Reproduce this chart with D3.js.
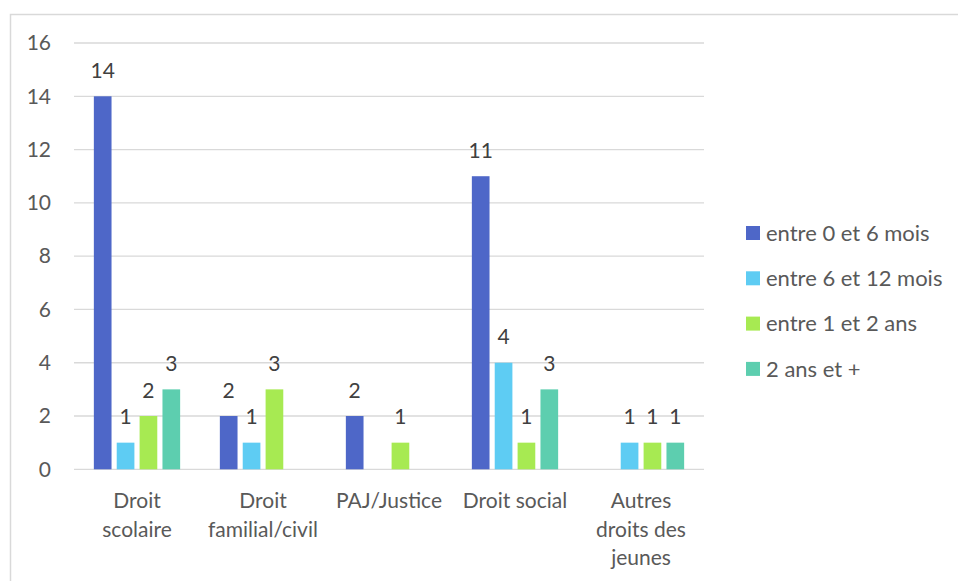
<!DOCTYPE html>
<html>
<head>
<meta charset="utf-8">
<script src="https://cdn.jsdelivr.net/npm/d3@7"></script>
<style>
  html, body { margin: 0; padding: 0; background: #fff; }
  svg { display: block; font-family: Lato, "Open Sans", sans-serif; }
</style>
</head>
<body>
<svg id="chart" width="958" height="581"></svg>
<script>
// Durées des dossiers par type de droit
const categories = ["Droit scolaire", "Droit familial/civil", "PAJ/Justice", "Droit social", "Autres droits des jeunes"];
const categoryLines = [["Droit", "scolaire"], ["Droit", "familial/civil"], ["PAJ/Justice"], ["Droit social"], ["Autres", "droits des", "jeunes"]];
const seriesNames = ["entre 0 et 6 mois", "entre 6 et 12 mois", "entre 1 et 2 ans", "2 ans et +"];
const seriesColors = ["#4E67C8", "#5ECCF3", "#A7EA52", "#5DCEAF"];
// Valeurs par série, dans l'ordre des catégories (null = aucune donnée)
const s0to6 = [14, 2, 2, 11, null];
const s6to12 = [1, 1, null, 4, 1];
const s1to2 = [2, 3, 1, 1, 1];
const s2plus = [3, null, null, 3, 1];
const yTicks = [0, 2, 4, 6, 8, 10, 12, 14, 16];

const seriesValues = [s0to6, s6to12, s1to2, s2plus];

const svg = d3.select("#chart");
const W = 958, H = 581;
const fontSize = 21;
const legendFontSize = 22;

// Cadre du graphique
svg.append("rect")
  .attr("x", 10.5).attr("y", 14.5)
  .attr("width", W).attr("height", H)
  .attr("fill", "none").attr("stroke", "#d9d9d9").attr("stroke-width", 1.5);

const plot = { left: 74, right: 704, top: 43, bottom: 469.3 };

const y = d3.scaleLinear().domain([0, 16]).range([plot.bottom, plot.top]);
const x0 = d3.scaleBand().domain(categories).range([plot.left, plot.right]).padding(0);
const groupW = 86.3;
const x1 = d3.scaleBand().domain(seriesNames)
  .range([(x0.bandwidth() - groupW) / 2, (x0.bandwidth() + groupW) / 2])
  .paddingInner(0.227).paddingOuter(0);

// Quadrillage horizontal
svg.append("g")
  .selectAll("line")
  .data(yTicks)
  .join("line")
  .attr("x1", plot.left).attr("x2", plot.right)
  .attr("y1", d => y(d)).attr("y2", d => y(d))
  .attr("stroke", "#d9d9d9").attr("stroke-width", 1.3);

// Axe vertical (libellés seulement)
const yAxis = svg.append("g")
  .attr("transform", `translate(${51},0)`)
  .call(d3.axisLeft(y).tickValues(yTicks).tickSize(0).tickPadding(0));
yAxis.select(".domain").remove();
yAxis.selectAll("text")
  .attr("font-family", "Lato, sans-serif")
  .attr("font-size", fontSize)
  .attr("fill", "#595959");

// Barres
const rows = [];
categories.forEach((c, i) => {
  seriesNames.forEach((s, j) => {
    const v = seriesValues[j][i];
    if (v != null) rows.push({ cat: c, series: s, j, value: v });
  });
});

const bars = svg.append("g");
bars.selectAll("rect")
  .data(rows)
  .join("rect")
  .attr("x", d => x0(d.cat) + x1(d.series))
  .attr("y", d => y(d.value))
  .attr("width", x1.bandwidth())
  .attr("height", d => y(0) - y(d.value))
  .attr("fill", d => seriesColors[d.j]);

// Étiquettes de valeurs
svg.append("g")
  .selectAll("text")
  .data(rows)
  .join("text")
  .attr("x", d => x0(d.cat) + x1(d.series) + x1.bandwidth() / 2)
  .attr("y", d => y(d.value) - 18.5)
  .attr("text-anchor", "middle")
  .attr("font-size", fontSize)
  .attr("fill", "#404040")
  .text(d => d.value);

// Libellés des catégories
const catG = svg.append("g");
categories.forEach((c, i) => {
  const t = catG.append("text")
    .attr("x", x0(c) + x0.bandwidth() / 2)
    .attr("y", 508)
    .attr("text-anchor", "middle")
    .attr("font-size", fontSize)
    .attr("fill", "#595959");
  categoryLines[i].forEach((line, k) => {
    t.append("tspan")
      .attr("x", x0(c) + x0.bandwidth() / 2)
      .attr("dy", k === 0 ? 0 : 28.5)
      .text(line);
  });
});

// Légende
const legend = svg.append("g");
seriesNames.forEach((s, j) => {
  const cy = 233 + j * 45.3;
  legend.append("rect")
    .attr("x", 746).attr("y", cy - 7)
    .attr("width", 14).attr("height", 14)
    .attr("fill", seriesColors[j]);
  legend.append("text")
    .attr("x", 766).attr("y", cy)
    .attr("dy", "0.35em")
    .attr("font-size", legendFontSize)
    .attr("fill", "#595959")
    .text(s);
});
</script>
</body>
</html>
